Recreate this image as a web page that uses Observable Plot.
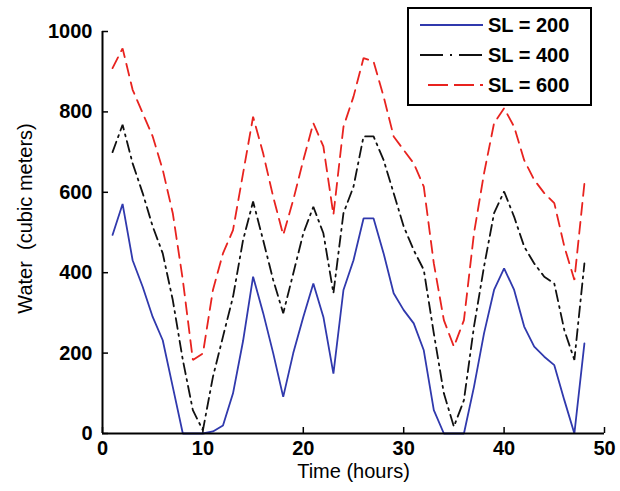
<!DOCTYPE html>
<html>
<head>
<meta charset="utf-8">
<script src="https://cdn.jsdelivr.net/npm/d3@7"></script>
<script src="https://cdn.jsdelivr.net/npm/@observablehq/plot@0.6"></script>
<style>
  html, body { margin: 0; padding: 0; background: white; }
  #wrap { position: relative; width: 620px; height: 491px; }
  #legend { position: absolute; left: 407px; top: 7px; width: 181px; height: 95px;
            border: 2px solid black; background: white; box-sizing: content-box; }
  #legend svg { display: block; }
</style>
</head>
<body>
<div id="wrap">
  <div id="chart"></div>
  <div id="legend"></div>
</div>
<script>
const hours = [1,2,3,4,5,6,7,8,9,10,11,12,13,14,15,16,17,18,19,20,21,22,23,24,
               25,26,27,28,29,30,31,32,33,34,35,36,37,38,39,40,41,42,43,44,45,46,47,48];
const sl200 = [494,571,431,365,290,232,116,0,0,0,5,20,100,230,390,300,200,91,200,290,373,290,149,357,
               431,535,535,448,349,307,274,207,58,0,0,0,116,249,357,411,357,266,216,191,170,83,0,224];
const sl400 = [700,768,672,598,515,448,332,183,58,8,141,241,340,481,577,481,382,299,398,498,564,498,349,548,
               614,739,739,680,598,515,456,407,249,100,17,83,266,415,548,602,539,465,423,390,373,257,183,423];
const sl600 = [909,958,855,797,739,656,548,382,183,199,357,448,506,647,788,697,589,494,581,680,772,714,544,763,
               838,934,925,838,739,705,672,614,423,282,216,282,498,647,772,809,763,680,631,598,573,465,382,622];
const seriesNames = ["SL = 200", "SL = 400", "SL = 600"];
const seriesColors = ["#3039ad", "#111111", "#e8231f"];
const seriesDash = [null, "11,5,2,5", "12,7"];
const legendDash = [null, "23,7,2,7", "20,6"];
const xTicks = [0,10,20,30,40,50];
const yTicks = [0,200,400,600,800,1000];
const xLabel = "Time (hours)";
const yLabel = "Water\u00a0 (cubic meters)";

const allSeries = [sl200, sl400, sl600];
const rows = [];
allSeries.forEach((vals, s) => vals.forEach((v, i) => rows.push({series: seriesNames[s], hour: hours[i], water: v})));

const lineMarks = seriesNames.map((name, s) =>
  Plot.line(rows.filter(r => r.series === name), {
    x: "hour", y: "water", stroke: seriesColors[s], strokeWidth: 1.8,
    strokeDasharray: seriesDash[s] || undefined, strokeLinejoin: "miter"
  })
);

const chart = Plot.plot({
  width: 620, height: 491,
  marginLeft: 102, marginRight: 16, marginTop: 31, marginBottom: 58,
  x: {domain: [0, 50]},
  y: {domain: [0, 1000]},
  style: {fontFamily: "'Liberation Sans', Arial, sans-serif", background: "white", color: "black"},
  marks: [
    Plot.axisX({ticks: xTicks, tickSize: 0, tickPadding: 7, fontSize: 20, fontWeight: "bold", label: null}),
    Plot.axisY({ticks: yTicks, tickSize: 0, tickPadding: 10, fontSize: 20, fontWeight: "bold", label: null, tickFormat: d3.format("d")}),
    Plot.ruleX(xTicks, {x: d => d, y1: 0, y2: 15, stroke: "black", strokeWidth: 1.5}),
    Plot.ruleY(yTicks, {y: d => d, x1: 0, x2: 0.6, stroke: "black", strokeWidth: 1.5}),
    ...lineMarks,
    Plot.ruleY([0], {stroke: "black", strokeWidth: 2}),
    Plot.ruleX([0], {stroke: "black", strokeWidth: 2}),
    Plot.text([xLabel], {frameAnchor: "bottom", dy: 44, fontSize: 20, text: d => d}),
    Plot.text([yLabel], {frameAnchor: "left", textAnchor: "middle", dx: -77, dy: -14, rotate: -90, fontSize: 20, text: d => d})
  ]
});
document.getElementById("chart").appendChild(chart);

// legend
const lg = d3.select("#legend").append("svg").attr("width", 181).attr("height", 95);
seriesNames.forEach((name, s) => {
  const y = 16 + s * 30;
  lg.append("line").attr("x1", s === 2 ? 19 : 11).attr("x2", 74).attr("y1", y).attr("y2", y)
    .attr("stroke", seriesColors[s]).attr("stroke-width", 2)
    .attr("stroke-dasharray", legendDash[s]);
  lg.append("text").attr("x", 79).attr("y", y).attr("dy", "0.36em")
    .attr("font-family", "'Liberation Sans', Arial, sans-serif")
    .attr("font-size", 20).attr("font-weight", "bold").text(name);
});
</script>
</body>
</html>
